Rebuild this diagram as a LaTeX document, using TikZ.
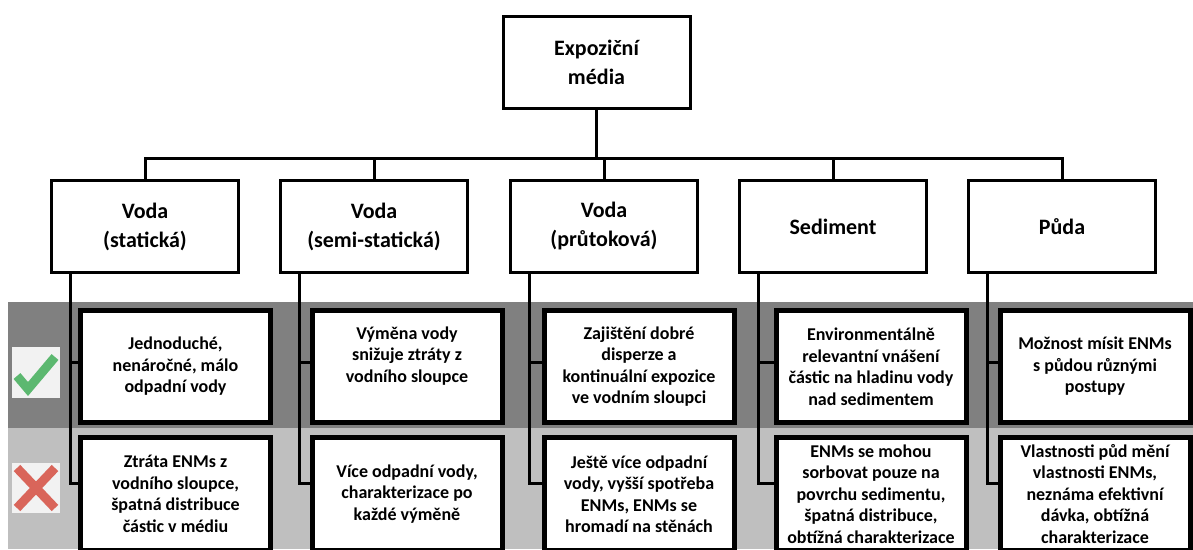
\documentclass[tikz,border=0pt]{standalone}
\usepackage{fontspec}
\setmainfont{Carlito}
\usepackage{xcolor}
\usepackage{tikz}
\usetikzlibrary{calc}
\definecolor{banddark}{RGB}{128,128,128}
\definecolor{bandlight}{RGB}{191,191,191}
\definecolor{okgreen}{RGB}{92,184,112}
\definecolor{nored}{RGB}{217,101,90}
\definecolor{iconbg}{RGB}{242,242,242}

\begin{document}
\begin{tikzpicture}[x=1pt,y=-1pt,
  head/.style={draw,line width=3pt,fill=white,minimum width=187pt,minimum height=92pt,
    align=center,font=\fontsize{22}{29}\selectfont\bfseries},
  cell/.style={draw,line width=5pt,fill=white,minimum width=190pt,minimum height=112pt,
    align=center,inner sep=2pt,font=\fontsize{18}{21.5}\selectfont\bfseries},
  link/.style={line width=3pt}]
  \useasboundingbox (0,0) rectangle (1193,549);
  \clip (0,0) rectangle (1193,549);
  % pros / cons bands
  \fill[banddark] (8,302) rectangle (1193,428);
  \fill[bandlight] (8,428) rectangle (1193,549);
  \fill[iconbg] (12,347) rectangle (60,398);
  \draw[okgreen,line width=9pt] (17,376) -- (28,389) -- (55,357);
  \fill[iconbg] (12,463) rectangle (60,513);
  \draw[nored,line width=9pt] (17,468) -- (55,508) (17,508) -- (55,468);

  \node[head] (media) at (596.5,62.5) {Expoziční\\média};
  \node[head] (h1) at (145,226.5) {Voda\\(statická)};
  \node[head] (h2) at (374,226.5) {Voda\\(semi-statická)};
  \node[head] (h3) at (604,226.5) {Voda\\(průtoková)};
  \node[head] (h4) at (833,226.5) {Sediment};
  \node[head] (h5) at (1062,226.5) {Půda};

  \coordinate (bus) at (596.5,158);
  \draw[link] (media.south) -- (bus);
  \draw[link] (h1.north) |- (bus);
  \draw[link] (h2.north) |- (bus);
  \draw[link] (h3.north) |- (bus);
  \draw[link] (h4.north) |- (bus);
  \draw[link] (h5.north) |- (bus);

  \node[cell] (up1) at (175.5,366.5) {Jednoduché,\\nenáročné, málo\\odpadní vody};
  \node[cell,text depth=24pt] (up2) at (407,366.5) {Výměna vody\\snižuje ztráty z\\vodního sloupce};
  \node[cell] (up3) at (639,366.5) {Zajištění dobré\\disperze a\\kontinuální expozice\\ve vodním sloupci};
  \node[cell] (up4) at (871,366.5) {Environmentálně\\relevantní vnášení\\částic na hladinu vody\\nad sedimentem};
  \node[cell] (up5) at (1095,366.5) {Možnost mísit ENMs\\s půdou různými\\postupy};

  \node[cell,minimum height=113pt] (dn1) at (175.5,494) {Ztráta ENMs z\\vodního sloupce,\\špatná distribuce\\částic v médiu};
  \node[cell,minimum height=113pt] (dn2) at (407,494) {Více odpadní vody,\\charakterizace po\\každé výměně};
  \node[cell,minimum height=113pt] (dn3) at (639,494) {Ještě více odpadní\\vody, vyšší spotřeba\\ENMs, ENMs se\\hromadí na stěnách};
  \node[cell,minimum height=113pt] (dn4) at (871,494) {ENMs se mohou\\sorbovat pouze na\\povrchu sedimentu,\\špatná distribuce,\\obtížná charakterizace};
  \node[cell,minimum height=113pt] (dn5) at (1095,494) {Vlastnosti půd mění\\vlastnosti ENMs,\\neznáma efektivní\\dávka, obtížná\\charakterizace};

  % each medium branches to its pro and its con
  \draw[link] ($(h1.south west)+(20,0)$) |- ([yshift=11pt]dn1.west) ($(h1.south west)+(20,0)$) |- ([yshift=4pt]up1.west);
  \draw[link] ($(h2.south west)+(20,0)$) |- ([yshift=11pt]dn2.west) ($(h2.south west)+(20,0)$) |- ([yshift=4pt]up2.west);
  \draw[link] ($(h3.south west)+(20,0)$) |- ([yshift=11pt]dn3.west) ($(h3.south west)+(20,0)$) |- ([yshift=4pt]up3.west);
  \draw[link] ($(h4.south west)+(20,0)$) |- ([yshift=11pt]dn4.west) ($(h4.south west)+(20,0)$) |- ([yshift=4pt]up4.west);
  \draw[link] ($(h5.south west)+(20,0)$) |- ([yshift=11pt]dn5.west) ($(h5.south west)+(20,0)$) |- ([yshift=4pt]up5.west);
\end{tikzpicture}
\end{document}
